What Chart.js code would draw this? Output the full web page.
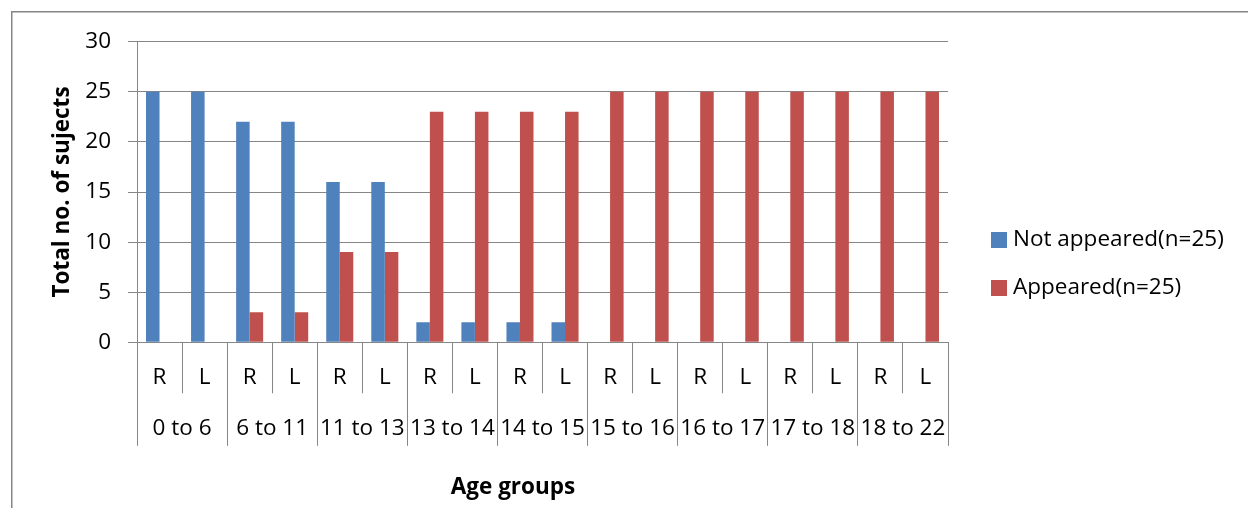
<!DOCTYPE html>
<html>
<head>
<meta charset="utf-8">
<title>Total no. of subjects by age group</title>
<script src="https://cdn.jsdelivr.net/npm/chart.js@4/dist/chart.umd.min.js"></script>
<style>
  html, body { margin: 0; padding: 0; background: #ffffff; }
  canvas { display: block; }
</style>
</head>
<body>
<canvas id="chart" width="1248" height="508"></canvas>
<script>
// Side (Right / Left) for each bar pair, grouped two per age band
const sides = ['R', 'L', 'R', 'L', 'R', 'L', 'R', 'L', 'R', 'L', 'R', 'L', 'R', 'L', 'R', 'L', 'R', 'L'];
const ageGroups = ['0 to 6', '6 to 11', '11 to 13', '13 to 14', '14 to 15', '15 to 16', '16 to 17', '17 to 18', '18 to 22'];
const notAppeared = [25, 25, 22, 22, 16, 16, 2, 2, 2, 2, 0, 0, 0, 0, 0, 0, 0, 0];
const appeared = [0, 0, 3, 3, 9, 9, 23, 23, 23, 23, 25, 25, 25, 25, 25, 25, 25, 25];
const seriesNames = ['Not appeared(n=25)', 'Appeared(n=25)'];

const FONT = '"Open Sans", Lato, sans-serif';
const AXIS_GREY = '#868686';
const TEXT_SIZE = 22.5;

// Outer frame, bottom axis title and the side legend
const decorations = {
  id: 'decorations',
  beforeDraw(chart) {
    const ctx = chart.ctx;
    ctx.save();
    ctx.fillStyle = '#ffffff';
    ctx.fillRect(0, 0, chart.width, chart.height);
    ctx.strokeStyle = AXIS_GREY;
    ctx.lineWidth = 1.5;
    ctx.strokeRect(11.75, 11.75, chart.width + 20, chart.height + 20);
    ctx.restore();
  },
  afterDraw(chart) {
    const ctx = chart.ctx;
    ctx.save();
    // x axis title
    ctx.fillStyle = '#000000';
    ctx.font = 'bold ' + TEXT_SIZE + 'px ' + FONT;
    ctx.textAlign = 'center';
    ctx.textBaseline = 'middle';
    ctx.fillText('Age groups', 513, 488);
    // legend
    ctx.font = TEXT_SIZE + 'px ' + FONT;
    ctx.textAlign = 'left';
    chart.data.datasets.forEach((ds, i) => {
      const cy = 240 + i * 48;
      ctx.fillStyle = ds.backgroundColor;
      ctx.fillRect(991, cy - 8, 16, 16);
      ctx.fillStyle = '#000000';
      ctx.fillText(ds.label, 1013, cy);
    });
    ctx.restore();
  }
};

new Chart(document.getElementById('chart'), {
  type: 'bar',
  data: {
    labels: sides,
    datasets: [
      { label: seriesNames[0], data: notAppeared, backgroundColor: '#4F81BD' },
      { label: seriesNames[1], data: appeared, backgroundColor: '#C0504D' }
    ]
  },
  options: {
    responsive: false,
    animation: false,
    devicePixelRatio: 1,
    layout: { padding: { left: 30, top: 41.7, right: 300, bottom: 0 } },
    datasets: { bar: { categoryPercentage: 0.6, barPercentage: 1.0 } },
    plugins: {
      legend: { display: false },
      tooltip: { enabled: false }
    },
    scales: {
      y: {
        min: 0,
        max: 30,
        ticks: { stepSize: 5, color: '#000000', padding: 17, font: { family: FONT, size: TEXT_SIZE } },
        grid: { color: AXIS_GREY, lineWidth: 1, tickLength: 9 },
        border: { display: true, color: AXIS_GREY, width: 1 },
        title: {
          display: true,
          text: 'Total no. of sujects',
          color: '#000000',
          font: { family: FONT, size: TEXT_SIZE, weight: 'bold' },
          padding: { top: 19.5, bottom: 0 }
        },
        afterFit(scale) { scale.width = 107; }
      },
      x: {
        position: 'bottom',
        offset: true,
        grid: { offset: true, drawOnChartArea: false, color: AXIS_GREY, lineWidth: 1, tickLength: 51 },
        border: { display: true, color: AXIS_GREY, width: 1 },
        ticks: { color: '#000000', autoSkip: false, maxRotation: 0, padding: -28.9, font: { family: FONT, size: TEXT_SIZE } },
        afterFit(scale) { scale.height = 51; }
      },
      x2: {
        type: 'category',
        position: 'bottom',
        labels: ageGroups,
        offset: true,
        grid: { offset: true, drawOnChartArea: false, color: AXIS_GREY, lineWidth: 1, tickLength: 52.5 },
        border: { display: false },
        ticks: { color: '#000000', autoSkip: false, maxRotation: 0, padding: -30.4, font: { family: FONT, size: TEXT_SIZE } },
        afterFit(scale) { scale.height = 114.7; }
      }
    }
  },
  plugins: [decorations]
});
</script>
</body>
</html>
